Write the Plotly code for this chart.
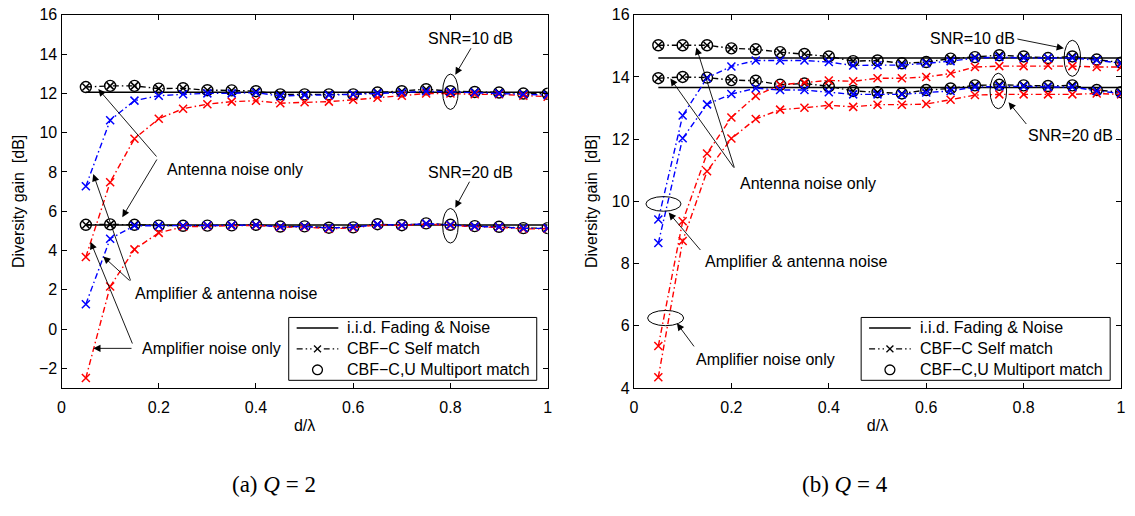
import plotly.graph_objects as go

# antenna spacing d/lambda
d_lambda = [0.05, 0.10, 0.15, 0.20, 0.25, 0.30, 0.35, 0.40, 0.45, 0.50,
            0.55, 0.60, 0.65, 0.70, 0.75, 0.80, 0.85, 0.90, 0.95, 1.00]

x_ticks = [0, 0.2, 0.4, 0.6, 0.8, 1]
x_tick_labels = ["0", "0.2", "0.4", "0.6", "0.8", "1"]
q2_y_ticks = [-2, 0, 2, 4, 6, 8, 10, 12, 14, 16]
q4_y_ticks = [4, 6, 8, 10, 12, 14, 16]

legend_labels = ["i.i.d. Fading & Noise", "CBF\u2212C Self match",
                 "CBF\u2212C,U Multiport match"]

# ---- Q = 2 : diversity gain [dB] ----
q2_iid_10 = 12.05
q2_iid_20 = 5.30
q2_ant_10 = [12.32, 12.38, 12.38, 12.24, 12.26, 12.16, 12.15, 12.11, 11.95, 11.95,
             11.95, 11.95, 12.04, 12.11, 12.21, 12.11, 12.07, 12.04, 11.99, 11.98]
q2_ampant_10 = [7.27, 10.63, 11.63, 11.88, 11.95, 12.00, 12.00, 12.04, 11.86, 11.91,
                11.91, 11.95, 12.00, 12.04, 12.11, 12.07, 12.04, 12.00, 11.95, 11.91]
q2_amp_10 = [3.67, 7.48, 9.69, 10.71, 11.22, 11.45, 11.58, 11.62, 11.50, 11.55,
             11.58, 11.67, 11.78, 11.88, 11.99, 11.99, 11.95, 11.95, 11.88, 11.83]
q2_ant_20 = [5.31, 5.33, 5.31, 5.27, 5.26, 5.27, 5.28, 5.31, 5.22, 5.23,
             5.16, 5.18, 5.34, 5.29, 5.38, 5.31, 5.24, 5.21, 5.14, 5.14]
q2_ampant_20 = [1.27, 4.60, 5.26, 5.26, 5.26, 5.27, 5.28, 5.30, 5.21, 5.22,
                5.15, 5.18, 5.33, 5.29, 5.37, 5.30, 5.23, 5.20, 5.13, 5.13]
q2_amp_20 = [-2.49, 2.17, 4.06, 4.90, 5.21, 5.25, 5.26, 5.28, 5.19, 5.20,
             5.11, 5.15, 5.31, 5.27, 5.35, 5.28, 5.21, 5.18, 5.10, 5.11]

# ---- Q = 4 : diversity gain [dB] ----
q4_iid_10 = 14.61
q4_iid_20 = 13.66
q4_ant_10 = [15.02, 15.02, 15.02, 14.92, 14.89, 14.80, 14.74, 14.66, 14.51, 14.53,
             14.44, 14.48, 14.59, 14.64, 14.70, 14.66, 14.61, 14.66, 14.56, 14.46]
q4_ampant_10 = [9.42, 12.76, 13.97, 14.34, 14.53, 14.53, 14.53, 14.48, 14.37, 14.38,
                14.38, 14.44, 14.51, 14.61, 14.64, 14.61, 14.61, 14.61, 14.54, 14.44]
q4_amp_10 = [5.35, 9.36, 11.54, 12.70, 13.39, 13.75, 13.82, 13.89, 13.86, 13.96,
             13.96, 14.00, 14.11, 14.32, 14.35, 14.35, 14.37, 14.35, 14.32, 14.32]
q4_ant_20 = [13.96, 14.00, 13.98, 13.90, 13.88, 13.75, 13.79, 13.70, 13.55, 13.51,
             13.47, 13.58, 13.63, 13.73, 13.75, 13.73, 13.71, 13.73, 13.58, 13.51]
q4_ampant_20 = [8.66, 12.03, 13.12, 13.45, 13.64, 13.58, 13.58, 13.51, 13.44, 13.44,
                13.44, 13.50, 13.55, 13.68, 13.70, 13.70, 13.68, 13.68, 13.55, 13.47]
q4_amp_20 = [4.35, 8.73, 10.97, 12.02, 12.65, 12.95, 13.01, 13.09, 13.04, 13.11,
             13.11, 13.13, 13.27, 13.42, 13.44, 13.44, 13.44, 13.44, 13.47, 13.44]

FONT = "Liberation Sans, Arial, sans-serif"
DASHDOT = "6px,3px,1.5px,3px"
LW = 1.4
W, H = 1135, 516

fig = go.Figure()


def add_panel(xa, ya, iid_levels, ant, ampant, amp):
    # reference i.i.d. levels
    for level in iid_levels:
        fig.add_trace(go.Scatter(
            x=[d_lambda[0], d_lambda[-1]], y=[level, level], mode="lines",
            line=dict(color="black", width=1.5), name=legend_labels[0],
            showlegend=False, xaxis=xa, yaxis=ya, hoverinfo="skip"))
    # antenna noise only (self match and multiport coincide)
    for ys in ant:
        fig.add_trace(go.Scatter(
            x=d_lambda, y=ys, mode="lines+markers",
            line=dict(color="black", width=LW, dash=DASHDOT),
            marker=dict(symbol="x-thin-open", size=7, color="black",
                        line=dict(color="black", width=1.5)),
            name=legend_labels[1], showlegend=False, xaxis=xa, yaxis=ya))
    for ys in ant:
        fig.add_trace(go.Scatter(
            x=d_lambda, y=ys, mode="markers",
            marker=dict(symbol="circle-open", size=11, color="black",
                        line=dict(color="black", width=1.4)),
            name=legend_labels[2], showlegend=False, xaxis=xa, yaxis=ya))
    # amplifier noise only
    for ys in amp:
        fig.add_trace(go.Scatter(
            x=d_lambda, y=ys, mode="lines+markers",
            line=dict(color="#ff0000", width=LW, dash=DASHDOT),
            marker=dict(symbol="x-thin-open", size=8, color="#ff0000",
                        line=dict(color="#ff0000", width=1.5)),
            name="Amplifier noise only", showlegend=False, xaxis=xa, yaxis=ya))
    # amplifier & antenna noise
    for ys in ampant:
        fig.add_trace(go.Scatter(
            x=d_lambda, y=ys, mode="lines+markers",
            line=dict(color="#0000ff", width=LW, dash=DASHDOT),
            marker=dict(symbol="x-thin-open", size=8, color="#0000ff",
                        line=dict(color="#0000ff", width=1.5)),
            name="Amplifier & antenna noise", showlegend=False,
            xaxis=xa, yaxis=ya))


add_panel("x", "y", [q2_iid_10, q2_iid_20],
          [q2_ant_10, q2_ant_20], [q2_ampant_10, q2_ampant_20],
          [q2_amp_10, q2_amp_20])
add_panel("x2", "y2", [q4_iid_10, q4_iid_20],
          [q4_ant_10, q4_ant_20], [q4_ampant_10, q4_ampant_20],
          [q4_amp_10, q4_amp_20])

TOP, BOTTOM = 7, 393
y_dom = [1 - BOTTOM / H, 1 - TOP / H]

axis_common = dict(
    showline=True, linecolor="black", linewidth=1.2, mirror="ticks",
    ticks="inside", ticklen=5, tickwidth=1, tickcolor="black",
    showgrid=False, zeroline=False, ticklabeloverflow="allow",
    tickfont=dict(family=FONT, size=16, color="black"),
)
title_font = dict(family=FONT, size=16, color="black")

fig.update_layout(
    xaxis=dict(domain=[58 / W, 548 / W], range=[0, 1], anchor="y",
               tickvals=x_ticks, ticktext=x_tick_labels, ticklabelstandoff=5,
               title=dict(text="d/\u03bb", standoff=4, font=title_font),
               **axis_common),
    yaxis=dict(domain=y_dom, range=[-3, 16], anchor="x", tickvals=q2_y_ticks,
               title=dict(text="Diversity gain\u00a0 [dB]", standoff=10,
                          font=title_font), **axis_common),
    xaxis2=dict(domain=[635 / W, 1126 / W], range=[0, 1], anchor="y2",
                tickvals=x_ticks, ticktext=x_tick_labels, ticklabelstandoff=5,
                title=dict(text="d/\u03bb", standoff=4, font=title_font),
                **axis_common),
    yaxis2=dict(domain=y_dom, range=[4, 16], anchor="x2", tickvals=q4_y_ticks,
                title=dict(text="Diversity gain\u00a0 [dB]", standoff=10,
                           font=title_font), **axis_common),
    showlegend=False,
    width=W, height=H,
    margin=dict(l=0, r=0, t=0, b=0),
    plot_bgcolor="white", paper_bgcolor="white",
    font=dict(family=FONT, size=16, color="black"),
)


def px_x(p):
    return p / W


def px_y(p):
    return 1 - p / H


def draw_legend(left, right, top, bottom):
    """Boxed key with three rows: solid line, dash-dot with x, open circle."""
    fig.add_shape(type="rect", xref="paper", yref="paper",
                  x0=px_x(left), x1=px_x(right), y0=px_y(bottom), y1=px_y(top),
                  line=dict(color="black", width=1), fillcolor="white", layer="above")
    row_h = (bottom - top) / 3
    rows = [top + row_h * (i + 0.5) for i in range(3)]
    s0, s1 = left + 8, left + 50
    sc = (s0 + s1) / 2
    # solid line sample
    fig.add_shape(type="line", xref="paper", yref="paper",
                  x0=px_x(s0), x1=px_x(s1), y0=px_y(rows[0]), y1=px_y(rows[0]),
                  line=dict(color="black", width=1.5), layer="above")
    # dash-dot sample with x marker
    fig.add_shape(type="line", xref="paper", yref="paper",
                  x0=px_x(s0), x1=px_x(s1), y0=px_y(rows[1]), y1=px_y(rows[1]),
                  line=dict(color="black", width=1.2, dash=DASHDOT), layer="above")
    fig.add_shape(type="rect", xref="paper", yref="paper",
                  x0=px_x(sc - 6), x1=px_x(sc + 6), y0=px_y(rows[1] + 4),
                  y1=px_y(rows[1] - 4), line=dict(width=0), fillcolor="white",
                  layer="above")
    for d in (-1, 1):
        fig.add_shape(type="line", xref="paper", yref="paper",
                      x0=px_x(sc - 3.5), x1=px_x(sc + 3.5),
                      y0=px_y(rows[1] - 3.5 * d), y1=px_y(rows[1] + 3.5 * d),
                      line=dict(color="black", width=1.3), layer="above")
    # open circle sample
    fig.add_shape(type="circle", xref="paper", yref="paper",
                  x0=px_x(sc - 5), x1=px_x(sc + 5),
                  y0=px_y(rows[2] + 5), y1=px_y(rows[2] - 5),
                  line=dict(color="black", width=1.3), layer="above")
    for text, yc in zip(legend_labels, rows):
        fig.add_annotation(x=px_x(left + 57), y=px_y(yc), xref="paper",
                           yref="paper", text=text.replace("&", "&amp;"),
                           showarrow=False, xanchor="left", yanchor="middle",
                           font=dict(family=FONT, size=16, color="black"))


draw_legend(287, 537, 320, 385)
draw_legend(864, 1115, 320, 385)


def label(xa, ya, x, y, text, xanchor="center"):
    fig.add_annotation(x=x, y=y, xref=xa, yref=ya, text=text, showarrow=False,
                       xanchor=xanchor, yanchor="middle",
                       font=dict(family=FONT, size=16, color="black"))


def arrow(xa, ya, tail, head):
    fig.add_annotation(x=head[0], y=head[1], ax=tail[0], ay=tail[1],
                       xref=xa, yref=ya, axref=xa, ayref=ya, text="",
                       showarrow=True, arrowhead=2, arrowsize=1.6,
                       arrowwidth=0.9, arrowcolor="black")


def ellipse(xa, ya, cx, cy, rx, ry):
    fig.add_shape(type="circle", xref=xa, yref=ya,
                  x0=cx - rx, x1=cx + rx, y0=cy - ry, y1=cy + ry,
                  line=dict(color="black", width=1))


# Q = 2 panel
label("x", "y", 0.841, 14.77, "SNR=10 dB")
arrow("x", "y", (0.844, 14.37), (0.810, 12.95))
ellipse("x", "y", 0.80, 12.08, 0.016, 0.90)
label("x", "y", 0.841, 7.97, "SNR=20 dB")
arrow("x", "y", (0.841, 7.58), (0.810, 6.18))
ellipse("x", "y", 0.80, 5.26, 0.016, 0.88)

label("x", "y", 0.212, 8.12, "Antenna noise only", xanchor="left")
arrow("x", "y", (0.198, 8.71), (0.0755, 12.22))
arrow("x", "y", (0.198, 8.71), (0.125, 5.70))

label("x", "y", 0.147, 1.81, "Amplifier &amp; antenna noise", xanchor="left")
arrow("x", "y", (0.143, 2.40), (0.0653, 7.89))
arrow("x", "y", (0.143, 2.40), (0.0857, 3.70))

label("x", "y", 0.161, -0.98, "Amplifier noise only", xanchor="left")
arrow("x", "y", (0.147, -0.98), (0.0653, -0.98))
arrow("x", "y", (0.147, -0.81), (0.0598, 4.44))

# Q = 4 panel
label("x2", "y2", 0.696, 15.23, "SNR=10 dB")
arrow("x2", "y2", (0.784, 15.23), (0.8826, 14.92))
ellipse("x2", "y2", 0.90, 14.60, 0.017, 0.58)
label("x2", "y2", 0.896, 12.12, "SNR=20 dB")
arrow("x2", "y2", (0.808, 12.44), (0.769, 13.19))
ellipse("x2", "y2", 0.748, 13.55, 0.017, 0.57)

label("x2", "y2", 0.2138, 10.59, "Antenna noise only", xanchor="left")
arrow("x2", "y2", (0.207, 11.04), (0.0747, 13.95))
arrow("x2", "y2", (0.207, 11.04), (0.128, 14.95))

label("x2", "y2", 0.1426, 8.07, "Amplifier &amp; antenna noise", xanchor="left")
arrow("x2", "y2", (0.139, 8.39), (0.0713, 9.64))
ellipse("x2", "y2", 0.0606, 9.92, 0.036, 0.235)

label("x2", "y2", 0.124, 4.93, "Amplifier noise only", xanchor="left")
arrow("x2", "y2", (0.1256, 5.29), (0.0882, 6.08))
ellipse("x2", "y2", 0.065, 6.25, 0.037, 0.245)

# sub-figure captions
CAP_FONT = dict(family="Liberation Serif, DejaVu Serif, serif", size=23, color="black")
fig.add_annotation(x=272 / W, y=1 - 493 / H, xref="paper", yref="paper",
                   xanchor="center", yanchor="middle",
                   text="(a) <i>Q</i> = 2", showarrow=False, font=CAP_FONT)
fig.add_annotation(x=848 / W, y=1 - 493 / H, xref="paper", yref="paper",
                   xanchor="center", yanchor="middle",
                   text="(b) <i>Q</i> = 4", showarrow=False, font=CAP_FONT)

fig.write_html("out.html")
